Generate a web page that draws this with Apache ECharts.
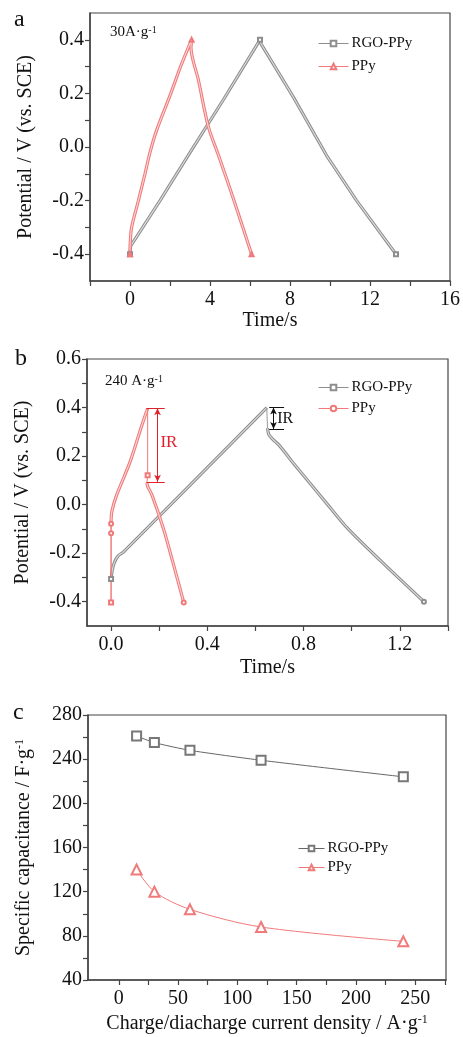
<!DOCTYPE html>
<html style="height: 100%">
<head>
<meta charset="utf-8">
<title>RGO-PPy / PPy charge-discharge</title>
<script src="https://cdn.jsdelivr.net/npm/echarts@6.0.0/dist/echarts.min.js"></script>
</head>
<body style="height: 100%; margin: 0; background: #fff">
<div id="target" style="width: 463px; height: 1037px"></div>
<script>

// ---- panel a : 30 A/g charge-discharge ----
const aRgoTime = [0, 0.03, 1.5, 2.92, 4.7, 6.5, 6.55, 8.17, 9.83, 11.33, 13.3];
const aRgoPot  = [-0.4, -0.37, -0.2, -0.03, 0.18, 0.4, 0.385, 0.186, -0.032, -0.2, -0.4];
const aPpyTime = [0, 0.01, 0.08, 0.42, 0.75, 1.0, 1.33, 1.97, 2.58, 2.92, 3.08, 3.05, 3.42, 3.92, 4.42, 5.2, 6.08];
const aPpyPot  = [-0.4, -0.36, -0.3, -0.2, -0.1, -0.02, 0.062, 0.186, 0.31, 0.372, 0.4, 0.37, 0.25, 0.075, -0.03, -0.2, -0.4];

// ---- panel b : 240 A/g charge-discharge ----
const bRgoChargeTime = [0, 0.005, 0.014, 0.03, 0.051, 0.647];
const bRgoChargePot  = [-0.306, -0.27, -0.238, -0.21, -0.196, 0.4];
const bRgoDropTime   = [0.647, 0.65];
const bRgoDropPot    = [0.4, 0.315];
const bRgoDisTime    = [0.65, 0.655, 0.671, 0.698, 0.75, 0.81, 0.9, 0.984, 1.127, 1.3];
const bRgoDisPot     = [0.315, 0.29, 0.27, 0.245, 0.18, 0.108, 0.0, -0.099, -0.238, -0.4];

const bPpyRestTime   = [0, 0, 0];
const bPpyRestPot    = [-0.403, -0.118, -0.079];
const bPpyChargeTime = [0, 0.003, 0.023, 0.079, 0.124, 0.152];
const bPpyChargePot  = [-0.079, -0.03, 0.039, 0.176, 0.315, 0.397];
const bPpyDropTime   = [0.152, 0.152, 0.149];
const bPpyDropPot    = [0.397, 0.121, 0.091];
const bPpyDisTime    = [0.149, 0.152, 0.17, 0.218, 0.257, 0.302];
const bPpyDisPot     = [0.091, 0.075, 0.039, -0.1, -0.238, -0.403];

// IR drop annotations (data coords): cap start, arrow, cap end / top, bottom
const bIrPpyX = [0.147, 0.193, 0.223];
const bIrPpyV = [0.397, 0.094];
const bIrRgoX = [0.657, 0.675, 0.719];
const bIrRgoV = [0.4, 0.312];
const bIrPpyText = [0.205, 0.254];
const bIrRgoText = [0.69, 0.353];

// ---- panel c : specific capacitance ----
const cDensity = [15, 30, 60, 120, 240];
const cRgoCap  = [261, 255, 248, 239, 224];
const cPpyCap  = [140, 120, 104, 88, 75];

// ---- ticks / labels ----
const aXLabels = [0, 4, 8, 12, 16];
const aXTicks  = [-2, 0, 2, 4, 6, 8, 10, 12, 14, 16];
const aYLabels = [-0.4, -0.2, 0, 0.2, 0.4];
const aYTicks  = [-0.4, -0.3, -0.2, -0.1, 0, 0.1, 0.2, 0.3, 0.4];
const bXLabels = [0, 0.4, 0.8, 1.2];
const bXTicks  = [0, 0.2, 0.4, 0.6, 0.8, 1.0, 1.2, 1.4];
const bYLabels = [-0.4, -0.2, 0, 0.2, 0.4, 0.6];
const bYTicks  = [-0.4, -0.3, -0.2, -0.1, 0, 0.1, 0.2, 0.3, 0.4, 0.5, 0.6];
const cXLabels = [0, 50, 100, 150, 200, 250];
const cXTicks  = [0, 25, 50, 75, 100, 125, 150, 175, 200, 225, 250, 275];
const cYLabels = [40, 80, 120, 160, 200, 240, 280];
const cYTicks  = [40, 60, 80, 100, 120, 140, 160, 180, 200, 220, 240, 260, 280];

const SERIF = '"Liberation Serif", "DejaVu Serif", serif';
const AXIS = '#444';
const GRAY = '#8e8e8e', GRAY_IN = '#dedede';
const RED = '#f07a7a', RED_IN = '#fcd6d6';

function pairs(xs, ys) {
    return xs.map((x, i) => [x, ys[i]]);
}

// thick "tube" curve: an outer coloured line and a pale core
function tube(name, idx, xs, ys, color, core, symbol, marks, smooth) {
    return [
        {
            name: name, type: 'line', xAxisIndex: idx, yAxisIndex: idx,
            data: pairs(xs, ys), smooth: smooth, symbol: symbol, showAllSymbol: true,
            symbolSize: (v, p) => marks.includes(p.dataIndex) ? 4 : 0,
            lineStyle: { color: color, width: 3.2 },
            itemStyle: { color: color, borderWidth: 1 },
        },
        {
            name: name + '_core', type: 'line', xAxisIndex: idx, yAxisIndex: idx,
            data: pairs(xs, ys), smooth: smooth, symbol: 'none', silent: true,
            lineStyle: { color: core, width: 1.1 },
        },
    ];
}

function thin(name, idx, xs, ys, color, symbol, marks) {
    return {
        name: name, type: 'line', xAxisIndex: idx, yAxisIndex: idx,
        data: pairs(xs, ys), symbol: symbol, showAllSymbol: true,
        symbolSize: (v, p) => marks.includes(p.dataIndex) ? 4 : 0,
        lineStyle: { color: color, width: 1 },
        itemStyle: { color: color, borderWidth: 1 },
    };
}

const nameStyle = {
    fontFamily: SERIF, fontSize: 20, color: '#111',
    rich: { sup: { fontFamily: SERIF, fontSize: 12, color: '#111', verticalAlign: 'top', padding: [0, 0, 8, 0] } },
};

function xAxis(idx, min, max, labels, ticks, fmt, name, nameGap) {
    return {
        type: 'value', gridIndex: idx, min: min, max: max,
        name: name, nameLocation: 'middle', nameGap: nameGap,
        nameTextStyle: nameStyle,
        axisLine: { onZero: false, lineStyle: { color: AXIS, width: 1.5 } },
        axisTick: { customValues: ticks, length: 5, lineStyle: { color: AXIS, width: 1.2 } },
        axisLabel: { customValues: labels, formatter: fmt, fontFamily: SERIF, fontSize: 20, color: '#111', margin: 9 },
        splitLine: { show: false },
    };
}

function yAxis(idx, min, max, labels, ticks, fmt, name) {
    return {
        type: 'value', gridIndex: idx, min: min, max: max,
        name: name, nameLocation: 'middle', nameGap: 54,
        nameTextStyle: nameStyle,
        axisLine: { onZero: false, lineStyle: { color: AXIS, width: 1.5 } },
        axisTick: { customValues: ticks, length: 5, lineStyle: { color: AXIS, width: 1.2 } },
        axisLabel: { customValues: labels, formatter: fmt, fontFamily: SERIF, fontSize: 20, color: '#111', margin: 6 },
        splitLine: { show: false },
    };
}

function legend(names, left, top, gap, itemWidth) {
    return {
        data: names, left: left, top: top, orient: 'vertical',
        itemWidth: itemWidth, itemHeight: 7, itemGap: gap,
        formatter: n => n.split('_')[0],
        lineStyle: { width: 1 },
        textStyle: { fontFamily: SERIF, fontSize: 15, color: '#111', padding: [0, 0, 0, -2] },
        selectedMode: false,
    };
}

const f1 = v => v.toFixed(1);
const f0 = v => String(Math.round(v));

let series = [];

// panel a
series.push(...tube('RGO-PPy', 0, aRgoTime, aRgoPot, GRAY, GRAY_IN, 'emptyRect', [0, 5, 10], false));
series.push(...tube('PPy', 0, aPpyTime, aPpyPot, RED, RED_IN, 'emptyTriangle', [0, 10, 16], 0.3));

// panel b
series.push(...tube('RGO-PPy_b', 1, bRgoChargeTime, bRgoChargePot, GRAY, GRAY_IN, 'emptyRect', [0], 0.3));
series.push(...tube('PPy_b', 1, bPpyChargeTime, bPpyChargePot, RED, RED_IN, 'emptyCircle', [0], 0.3));
series.push(...tube('RGO-PPy_b', 1, bRgoDisTime, bRgoDisPot, GRAY, GRAY_IN, 'emptyCircle', [9], 0.3));
series.push(...tube('PPy_b', 1, bPpyDisTime, bPpyDisPot, RED, RED_IN, 'emptyCircle', [5], 0.3));
series.push(thin('PPy_b', 1, bPpyRestTime, bPpyRestPot, RED, 'emptyRect', [0]));
series.push(thin('PPy_b', 1, bPpyRestTime, bPpyRestPot, RED, 'emptyCircle', [1]));

let rgoDrop = thin('RGO-PPy_b', 1, bRgoDropTime, bRgoDropPot, '#999', 'emptyRect', []);
rgoDrop.markLine = {
    silent: true, animation: false,
    label: { show: false },
    lineStyle: { color: '#111', width: 1, type: 'solid' },
    data: [
        [{ coord: [bIrRgoX[0], bIrRgoV[0]], symbol: 'none' }, { coord: [bIrRgoX[2], bIrRgoV[0]], symbol: 'none' }],
        [{ coord: [bIrRgoX[0], bIrRgoV[1]], symbol: 'none' }, { coord: [bIrRgoX[2], bIrRgoV[1]], symbol: 'none' }],
        [{ coord: [bIrRgoX[1], bIrRgoV[0]], symbol: 'arrow', symbolSize: [5, 7] }, { coord: [bIrRgoX[1], bIrRgoV[1]], symbol: 'arrow', symbolSize: [5, 7] }],
    ],
};
rgoDrop.markPoint = {
    silent: true, symbolSize: 0,
    label: { show: true, position: 'right', distance: 0, formatter: 'IR', fontFamily: SERIF, fontSize: 16, color: '#111' },
    data: [{ coord: bIrRgoText }],
};
series.push(rgoDrop);

let ppyDrop = thin('PPy_b', 1, bPpyDropTime, bPpyDropPot, RED, 'emptyRect', [1]);
ppyDrop.markLine = {
    silent: true, animation: false,
    label: { show: false },
    lineStyle: { color: '#e0202a', width: 1, type: 'solid' },
    data: [
        [{ coord: [bIrPpyX[0], bIrPpyV[0]], symbol: 'none' }, { coord: [bIrPpyX[2], bIrPpyV[0]], symbol: 'none' }],
        [{ coord: [bIrPpyX[0], bIrPpyV[1]], symbol: 'none' }, { coord: [bIrPpyX[2], bIrPpyV[1]], symbol: 'none' }],
        [{ coord: [bIrPpyX[1], bIrPpyV[0]], symbol: 'arrow', symbolSize: [5, 7] }, { coord: [bIrPpyX[1], bIrPpyV[1]], symbol: 'arrow', symbolSize: [5, 7] }],
    ],
};
ppyDrop.markPoint = {
    silent: true, symbolSize: 0,
    label: { show: true, position: 'right', distance: 0, formatter: 'IR', fontFamily: SERIF, fontSize: 17, color: '#e0202a' },
    data: [{ coord: bIrPpyText }],
};
series.push(ppyDrop);

// panel c
series.push({
    name: 'RGO-PPy_c', type: 'line', xAxisIndex: 2, yAxisIndex: 2,
    data: pairs(cDensity, cRgoCap), smooth: 0.2,
    symbol: 'emptyRect', symbolSize: 9,
    lineStyle: { color: '#666', width: 1 },
    itemStyle: { color: '#777', borderWidth: 1.2 },
});
series.push({
    name: 'PPy_c', type: 'line', xAxisIndex: 2, yAxisIndex: 2,
    data: pairs(cDensity, cPpyCap), smooth: 0.3,
    symbol: 'emptyTriangle', symbolSize: 10,
    lineStyle: { color: RED, width: 1 },
    itemStyle: { color: RED, borderWidth: 1.2 },
});

const sup = { fontFamily: SERIF, fontSize: 10, color: '#111', verticalAlign: 'top' };

let chart = echarts.init(document.getElementById('target'));

let option = {
    animation: false,
    backgroundColor: '#fff',
    grid: [
        { left: 90, top: 13, width: 362, height: 268, show: true, borderColor: AXIS, borderWidth: 1.2 },
        { left: 87, top: 359, width: 361, height: 267, show: true, borderColor: AXIS, borderWidth: 1.2 },
        { left: 88, top: 715, width: 358, height: 265, show: true, borderColor: AXIS, borderWidth: 1.2 },
    ],
    xAxis: [
        xAxis(0, -2, 16, aXLabels, aXTicks, f0, 'Time/s', 30),
        xAxis(1, -0.1, 1.4, bXLabels, bXTicks, f1, 'Time/s', 32),
        xAxis(2, -26, 276, cXLabels, cXTicks, f0, 'Charge/diacharge current density / A·g{sup|-1}', 34),
    ],
    yAxis: [
        yAxis(0, -0.5, 0.5, aYLabels, aYTicks, f1, 'Potential / V (vs. SCE)'),
        yAxis(1, -0.5, 0.6, bYLabels, bYTicks, f1, 'Potential / V (vs. SCE)'),
        yAxis(2, 40, 280, cYLabels, cYTicks, f0, 'Specific capacitance / F·g{sup|-1}'),
    ],
    legend: [
        legend(['RGO-PPy', 'PPy'], 313, 31, 8, 30),
        legend(['RGO-PPy_b', 'PPy_b'], 313, 375, 6, 30),
        legend(['RGO-PPy_c', 'PPy_c'], 293, 836, 4, 26),
    ],
    graphic: [
        { type: 'text', left: 14, top: 8, style: { text: 'a', font: '24px ' + SERIF, fill: '#111' } },
        { type: 'text', left: 15, top: 347, style: { text: 'b', font: '24px ' + SERIF, fill: '#111' } },
        { type: 'text', left: 13, top: 701, style: { text: 'c', font: '24px ' + SERIF, fill: '#111' } },
        { type: 'text', left: 110, top: 25, style: { text: '30A·g{sup|-1}', font: '15px ' + SERIF, fill: '#111', rich: { sup: sup } } },
        { type: 'text', left: 105, top: 374, style: { text: '240 A·g{sup|-1}', font: '15px ' + SERIF, fill: '#111', rich: { sup: sup } } },
    ],
    series: series,
};

chart.setOption(option);

</script>
</body>
</html>
